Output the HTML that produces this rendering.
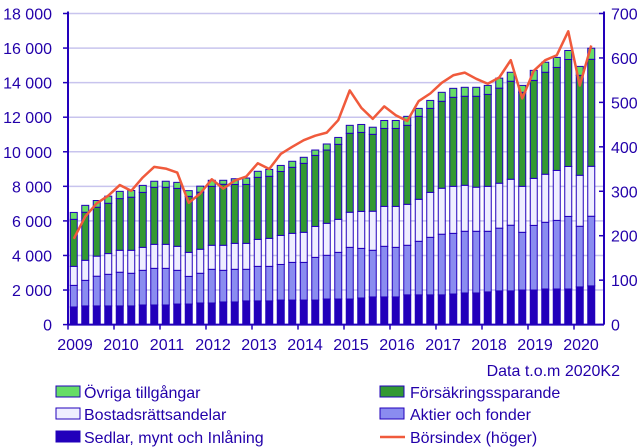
<!DOCTYPE html>
<html><head><meta charset="utf-8"><style>
body{margin:0;background:#fff;}
svg{display:block;font-family:"Liberation Sans",sans-serif;}
</style></head><body>
<svg id="chart" width="644" height="448" viewBox="0 0 644 448" xmlns="http://www.w3.org/2000/svg">
<g id="grid"></g>
<g id="bars"></g>
<g id="line"></g>
<g id="axes"></g>
<text x="620" y="376" text-anchor="end" font-size="16" fill="#2200aa">Data t.o.m 2020K2</text>
<g font-size="16" fill="#2200aa">
<g><rect x="56" y="386" width="24" height="11" fill="#66dd66" stroke="#2200bb"/><text x="84" y="398">Övriga tillgångar</text></g>
<g><rect x="380" y="386" width="24" height="11" fill="#339933" stroke="#2200bb"/><text x="410" y="398">Försäkringssparande</text></g>
<g><rect x="56" y="408" width="24" height="11" fill="#eeeeff" stroke="#2200bb"/><text x="84" y="420">Bostadsrättsandelar</text></g>
<g><rect x="380" y="408" width="24" height="11" fill="#8a8cf0" stroke="#2200bb"/><text x="410" y="420">Aktier och fonder</text></g>
<g><rect x="56" y="431" width="24" height="11" fill="#2200bb" stroke="#2200bb"/><text x="84" y="443">Sedlar, mynt och Inlåning</text></g>
<g><line x1="380" y1="437" x2="405" y2="437" stroke="#f05a3c" stroke-width="2.5"/><text x="410" y="443">Börsindex (höger)</text></g>
</g>
</svg>
<script>
const years = ["2009","2010","2011","2012","2013","2014","2015","2016","2017","2018","2019","2020"];
const leftTicks = [0,2000,4000,6000,8000,10000,12000,14000,16000,18000];
const rightTicks = [0,100,200,300,400,500,600,700];
const sedlar = [1020,1080,1080,1080,1080,1080,1135,1135,1135,1190,1190,1250,1250,1310,1310,1370,1370,1370,1420,1420,1420,1420,1480,1480,1480,1540,1600,1600,1600,1720,1720,1720,1720,1770,1830,1830,1890,1950,1950,2000,2000,2060,2060,2060,2180,2240];
const aktier = [1250,1480,1720,1830,1950,1890,2005,2120,2120,1950,1600,1720,1950,1830,1890,1830,2000,2000,2060,2180,2180,2470,2530,2700,2990,2870,2700,2930,2870,2870,3100,3330,3510,3510,3570,3570,3510,3630,3800,3340,3740,3860,3970,4200,3510,4030];
const bostad = [1100,1160,1160,1200,1270,1330,1330,1390,1390,1390,1390,1390,1390,1450,1500,1500,1560,1620,1680,1680,1740,1790,1850,1910,2030,2140,2260,2310,2370,2370,2430,2600,2660,2720,2660,2550,2600,2600,2660,2660,2720,2780,2890,2890,2950,2890];
const forsakring = [2720,2780,2830,2910,2990,3070,3180,3300,3300,3350,3240,3300,3410,3530,3410,3410,3590,3590,3700,3820,3990,4110,4240,4340,4570,4570,4450,4510,4510,4570,4800,4860,5030,5150,5150,5260,5320,5500,5670,5440,5670,5900,5960,6190,5780,6190];
const ovriga = [400,400,390,410,420,390,405,350,350,350,330,350,350,230,330,370,350,400,350,350,350,310,350,400,460,460,410,460,460,520,460,460,520,520,520,520,520,580,520,400,580,580,580,520,520,640];
const borsindex = [193,243,273,290,314,301,331,355,351,342,274,295,327,306,324,333,363,350,384,400,415,425,432,460,527,488,463,491,471,458,503,520,544,561,567,553,542,556,595,509,571,595,606,660,538,628];

const NS="http://www.w3.org/2000/svg";
const X0=68, X1=604, Y0=324.6, Ytop=13.5, slot=11.5, bw=7;
const yL = v => Y0 - v/18000*(Y0-Ytop);
const yR = v => Y0 - v/700*(Y0-Ytop);
const xC = i => X0 + slot*(i+0.5);
function mk(tag, attrs, parent){const e=document.createElementNS(NS,tag);for(const k in attrs)e.setAttribute(k,attrs[k]);parent.appendChild(e);return e;}
const grid=document.getElementById('grid'), bars=document.getElementById('bars'), lineG=document.getElementById('line'), axes=document.getElementById('axes');
leftTicks.forEach(t=>{
  if(t>0){const g=mk('line',{x1:X0,x2:X1,y1:yL(t),y2:yL(t),stroke:'#c8c4ee','stroke-width':1.5},grid);
  
  }
  const tx=mk('text',{x:52,y:yL(t)+6,'text-anchor':'end','font-size':16,fill:'#2200aa'},axes);
  
  
  tx.textContent=t.toLocaleString('en-US').replace(/,/g,' ');
  mk('line',{x1:X0-5,x2:X0,y1:yL(t),y2:yL(t),stroke:'#2200bb','stroke-width':1.5},axes);
});
rightTicks.forEach(t=>{
  const tx=mk('text',{x:611,y:yR(t)+6,'font-size':16,fill:'#2200aa'},axes);
  
  
  tx.textContent=t;
  mk('line',{x1:X1-5,x2:X1,y1:yR(t),y2:yR(t),stroke:'#2200bb','stroke-width':1.5},axes);
});
const series=[[sedlar,'#2200bb'],[aktier,'#8a8cf0'],[bostad,'#eeeeff'],[forsakring,'#339933'],[ovriga,'#66dd66']];
const names=['sedlar','aktier','bostad','forsakring','ovriga'];
sedlar.forEach((_,i)=>{
  let cum=0;
  series.forEach(([arr,col],s)=>{
    const y1=yL(cum), y2=yL(cum+arr[i]);
    const r=mk('rect',{x:xC(i)-bw/2,y:y2,width:bw,height:y1-y2,fill:col,stroke:'#2200bb','stroke-width':1},bars);
    
    
    cum+=arr[i];
  });
});
const pl=mk('polyline',{points:borsindex.map((v,i)=>xC(i)+','+yR(v)).join(' '),fill:'none',stroke:'#f05a3c','stroke-width':2.5,'stroke-linejoin':'round'},lineG);


mk('line',{x1:X0,x2:X0,y1:Ytop-2,y2:Y0,stroke:'#2200bb','stroke-width':2},axes);
mk('line',{x1:X1,x2:X1,y1:Ytop-2,y2:Y0,stroke:'#2200bb','stroke-width':2},axes);
mk('line',{x1:X0,x2:X1,y1:Y0,y2:Y0,stroke:'#2200bb','stroke-width':2},axes);
years.forEach((yr,k)=>{
  const x=X0+slot*4*k;
  mk('line',{x1:x,x2:x,y1:Y0,y2:Y0+5,stroke:'#2200bb','stroke-width':1.5},axes);
  const tx=mk('text',{x:x+7,y:350,'text-anchor':'middle','font-size':16,fill:'#2200aa'},axes);
  
  
  tx.textContent=yr;
});
</script>
</body></html>
